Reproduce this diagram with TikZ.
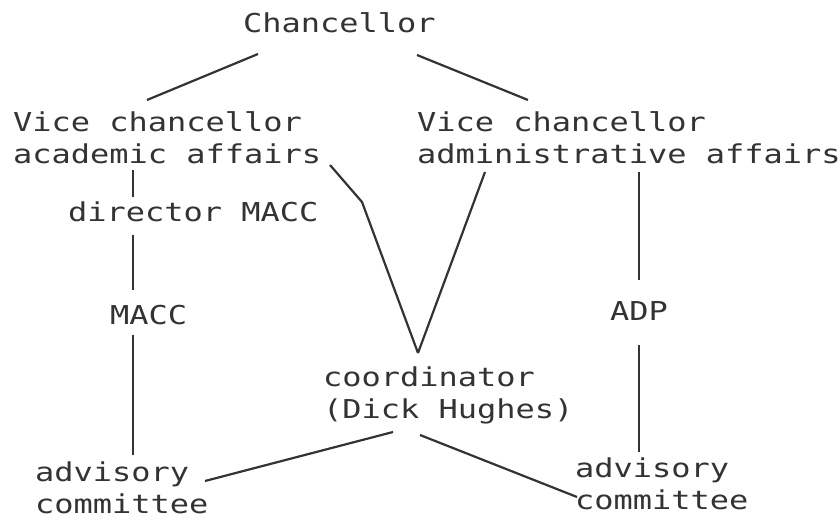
\documentclass[tikz,border=0pt]{standalone}
\usepackage{fontspec}
\newfontfamily\dotfont[FakeStretch=1.23]{DejaVu Sans Mono}
\begin{document}
\begin{tikzpicture}[x=1pt,y=-1pt,
  lbl/.style={anchor=base west,inner sep=0pt,align=left,text=black!80,
    font=\dotfont\fontsize{26}{32}\selectfont},
  ln/.style={draw,line width=2.2pt,black!80}]
\path[use as bounding box] (0,0) rectangle (840,518);

% base anchor sits on the last line
\node[lbl] (chan) at (243,33) {Chancellor};
\node[lbl] (vcacad) at (13,164) {Vice chancellor\\academic affairs};
\node[lbl] (vcadm) at (417,164) {Vice chancellor\\administrative affairs};
\node[lbl] (dir) at (68,222) {director MACC};
\node[lbl] (macc) at (110,324) {MACC};
\node[lbl] (adp) at (610,320) {ADP};
\node[lbl] (coord) at (323,418) {coordinator\\(Dick Hughes)};
\node[lbl] (advl) at (35,513) {advisory\\committee};
\node[lbl] (advr) at (575,509) {advisory\\committee};

% line ends
\coordinate (chan-l) at (258,54);
\coordinate (chan-r) at (417,55);
\coordinate (vcacad-t) at (147,100);
\coordinate (vcadm-t) at (528,100);
\coordinate (vcacad-b) at (133,170);
\coordinate (vcacad-r) at (330,165);
\coordinate (kink) at (362,202);
\coordinate (vcadm-b) at (485,172);
\coordinate (vcadm-v) at (639,172);
\coordinate (dir-t) at (133,197);
\coordinate (dir-b) at (133,235);
\coordinate (macc-t) at (133,290);
\coordinate (macc-b) at (133,335);
\coordinate (advl-t) at (133,455);
\coordinate (advl-r) at (205,481);
\coordinate (adp-t) at (639,280);
\coordinate (adp-b) at (639,345);
\coordinate (advr-t) at (639,452);
\coordinate (advr-l) at (577,497);
\coordinate (coord-t) at (418,353);
\coordinate (coord-l) at (393,432);
\coordinate (coord-r) at (420,435);

\path[ln] (chan-l) -- (vcacad-t);
\path[ln] (chan-r) -- (vcadm-t);
\path[ln] (vcacad-b) -- (dir-t);
\path[ln] (dir-b) -- (macc-t);
\path[ln] (macc-b) -- (advl-t);
\path[ln] (vcadm-v) -- (adp-t);
\path[ln] (adp-b) -- (advr-t);
\path[ln] (vcacad-r) -- (kink) -- (coord-t);
\path[ln] (vcadm-b) -- (coord-t);
\path[ln] (coord-l) -- (advl-r);
\path[ln] (coord-r) -- (advr-l);
\end{tikzpicture}
\end{document}
